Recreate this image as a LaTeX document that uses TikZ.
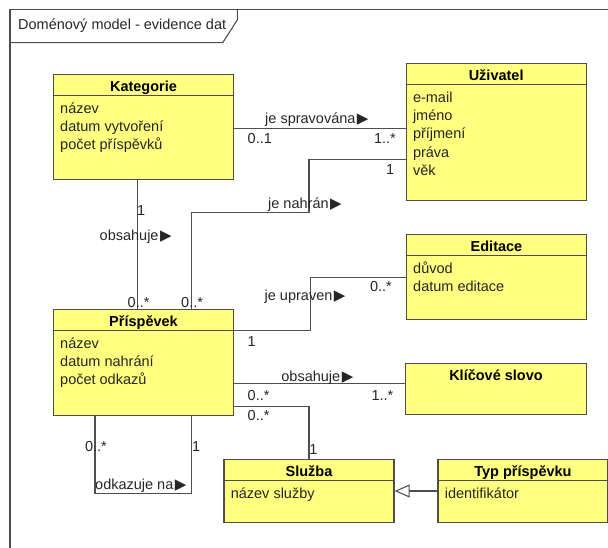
\documentclass[tikz,border=0pt]{standalone}
\usepackage{fontspec}
\setmainfont{Liberation Sans}
\newfontfamily\symfont{DejaVu Sans}
\usetikzlibrary{arrows.meta}

\definecolor{classfill}{RGB}{255,255,128}
\definecolor{edgegray}{RGB}{78,78,78}
\definecolor{inkgray}{RGB}{38,38,38}

% reading-direction triangle after an association name
\newcommand{\dirtri}{\kern1.5pt{\symfont\fontsize{15}{15}\selectfont ▶}}

% UML class: name, x, y (north west), width, height, title, attributes
\newcommand{\umlclass}[7]{%
  \node[classbox, minimum width=#4pt, minimum height=#5pt] (#1) at (#2,#3) {};
  \node[classtitle] (#1-title) at ([yshift=-17.7pt]#1.north) {#6};
  \draw[sep] ([yshift=-21.5pt]#1.north west) -- ([yshift=-21.5pt]#1.north east);
  \foreach \attrtext [count=\i] in {#7} {
    \node[attr] (#1-a\i) at ([xshift=7.3pt, yshift={-39.5pt-(\i-1)*18.2pt}]#1.north west) {\attrtext};
  }%
}

\begin{document}
\begin{tikzpicture}[x=1pt, y=-1pt,
  every node/.style={font=\fontsize{14.5}{18.2}\selectfont, text=inkgray, inner sep=0pt},
  classbox/.style={draw=edgegray, line width=1.3pt, fill=classfill, anchor=north west, inner sep=0pt},
  classtitle/.style={anchor=base, font=\fontsize{14.5}{18.2}\selectfont\bfseries, text=black},
  attr/.style={anchor=base west},
  sep/.style={draw=edgegray, line width=1.1pt},
  conn/.style={draw=edgegray, line width=1.1pt},
  lbl/.style={anchor=base west},
  lblr/.style={anchor=base east},
  gen/.style={conn, -{Triangle[open, length=15pt, width=13pt]}},
  frameline/.style={draw=edgegray, line width=1.1pt}
]
\useasboundingbox (0,0) rectangle (608,548);

% diagram frame with its name tab
\draw[frameline] (10,548) -- (10,9.3) -- (608,9.3);
\draw[frameline] (237.3,9.3) -- (237.3,20) -- (222.7,42.7) -- (10,42.7);
\node[anchor=base west] (frametitle) at (18,29.3) {Doménový model - evidence dat};

% classes
\umlclass{kat}{52.7}{74}{180.3}{105}{Kategorie}{název,datum vytvoření,počet příspěvků}
\umlclass{uziv}{405.5}{63}{180}{137}{Uživatel}{e-mail,jméno,příjmení,práva,věk}
\umlclass{edit}{405.7}{234}{180.3}{85}{Editace}{důvod,datum editace}
\umlclass{prisp}{52.7}{309}{180.3}{106}{Příspěvek}{název,datum nahrání,počet odkazů}
\umlclass{sluz}{223.3}{459}{170}{62.7}{Služba}{název služby}
\umlclass{typ}{437.3}{459}{170}{62.7}{Typ příspěvku}{identifikátor}
\node[classbox, minimum width=180.7pt, minimum height=51.3pt] (klic) at (405,362.7) {};
\node[classtitle] (klic-title) at ([yshift=-17.7pt]klic.north) {Klíčové slovo};

% associations
\coordinate (kat-out) at ([yshift=-1.2pt]kat.east);
\draw[conn] (kat-out) -- (kat-out -| uziv.west);
\draw[conn] ([yshift=-27.5pt]uziv.west) -- ++(-96.5,0) -- ++(0,53) -| ([xshift=139pt]prisp.north west);
\draw[conn] ([xshift=85pt]kat.south west) -- ([xshift=85pt]prisp.north west);
\draw[conn] ([yshift=32pt]prisp.east) -- ++(76,0) |- (edit.west);
\coordinate (klic-in) at ([yshift=5.3pt]klic.west);
\draw[conn] (klic-in -| prisp.east) -- (klic-in);
\draw[conn] ([yshift=-44pt]prisp.east) -| (sluz.north);
\draw[conn] ([xshift=42.3pt]prisp.south west) -- ++(0,77.6) -| ([xshift=139pt]prisp.south west);
\draw[gen] (typ.west) -- (typ.west -| sluz.east);

% association names and multiplicities
\node[lbl] (l-sprav) at (265,123.5) {je spravována\dirtri};
\node[lbl] (m-sprav-a) at (247.5,143.3) {0..1};
\node[lblr] (m-sprav-b) at (396,143.3) {1..*};

\node[lbl] (l-nahr) at (268,208.3) {je nahrán\dirtri};
\node[lblr] (m-nahr-a) at (394.5,175) {1};
\node[lbl] (m-nahr-b) at (181,307.7) {0..*};

\node[lbl] (l-obs1) at (99.5,241) {obsahuje\dirtri};
\node[lbl] (m-obs1-a) at (136.8,215.7) {1};
\node[lbl] (m-obs1-b) at (127.5,307.7) {0..*};

\node[lbl] (l-upr) at (264.5,300) {je upraven\dirtri};
\node[lblr] (m-upr-a) at (392,291.7) {0..*};
\node[lbl] (m-upr-b) at (247.5,346.7) {1};

\node[lbl] (l-obs2) at (281.2,381) {obsahuje\dirtri};
\node[lbl] (m-obs2-a) at (247.5,400) {0..*};
\node[lblr] (m-obs2-b) at (393.5,400) {1..*};

\node[lbl] (m-sluz-a) at (247.5,420.7) {0..*};
\node[lbl] (m-sluz-b) at (309.2,454) {1};

\node[lbl] (l-odk) at (95,489.8) {odkazuje na\dirtri};
\node[lbl] (m-odk-a) at (84.8,451.4) {0..*};
\node[lbl] (m-odk-b) at (192,451.4) {1};
\end{tikzpicture}
\end{document}
